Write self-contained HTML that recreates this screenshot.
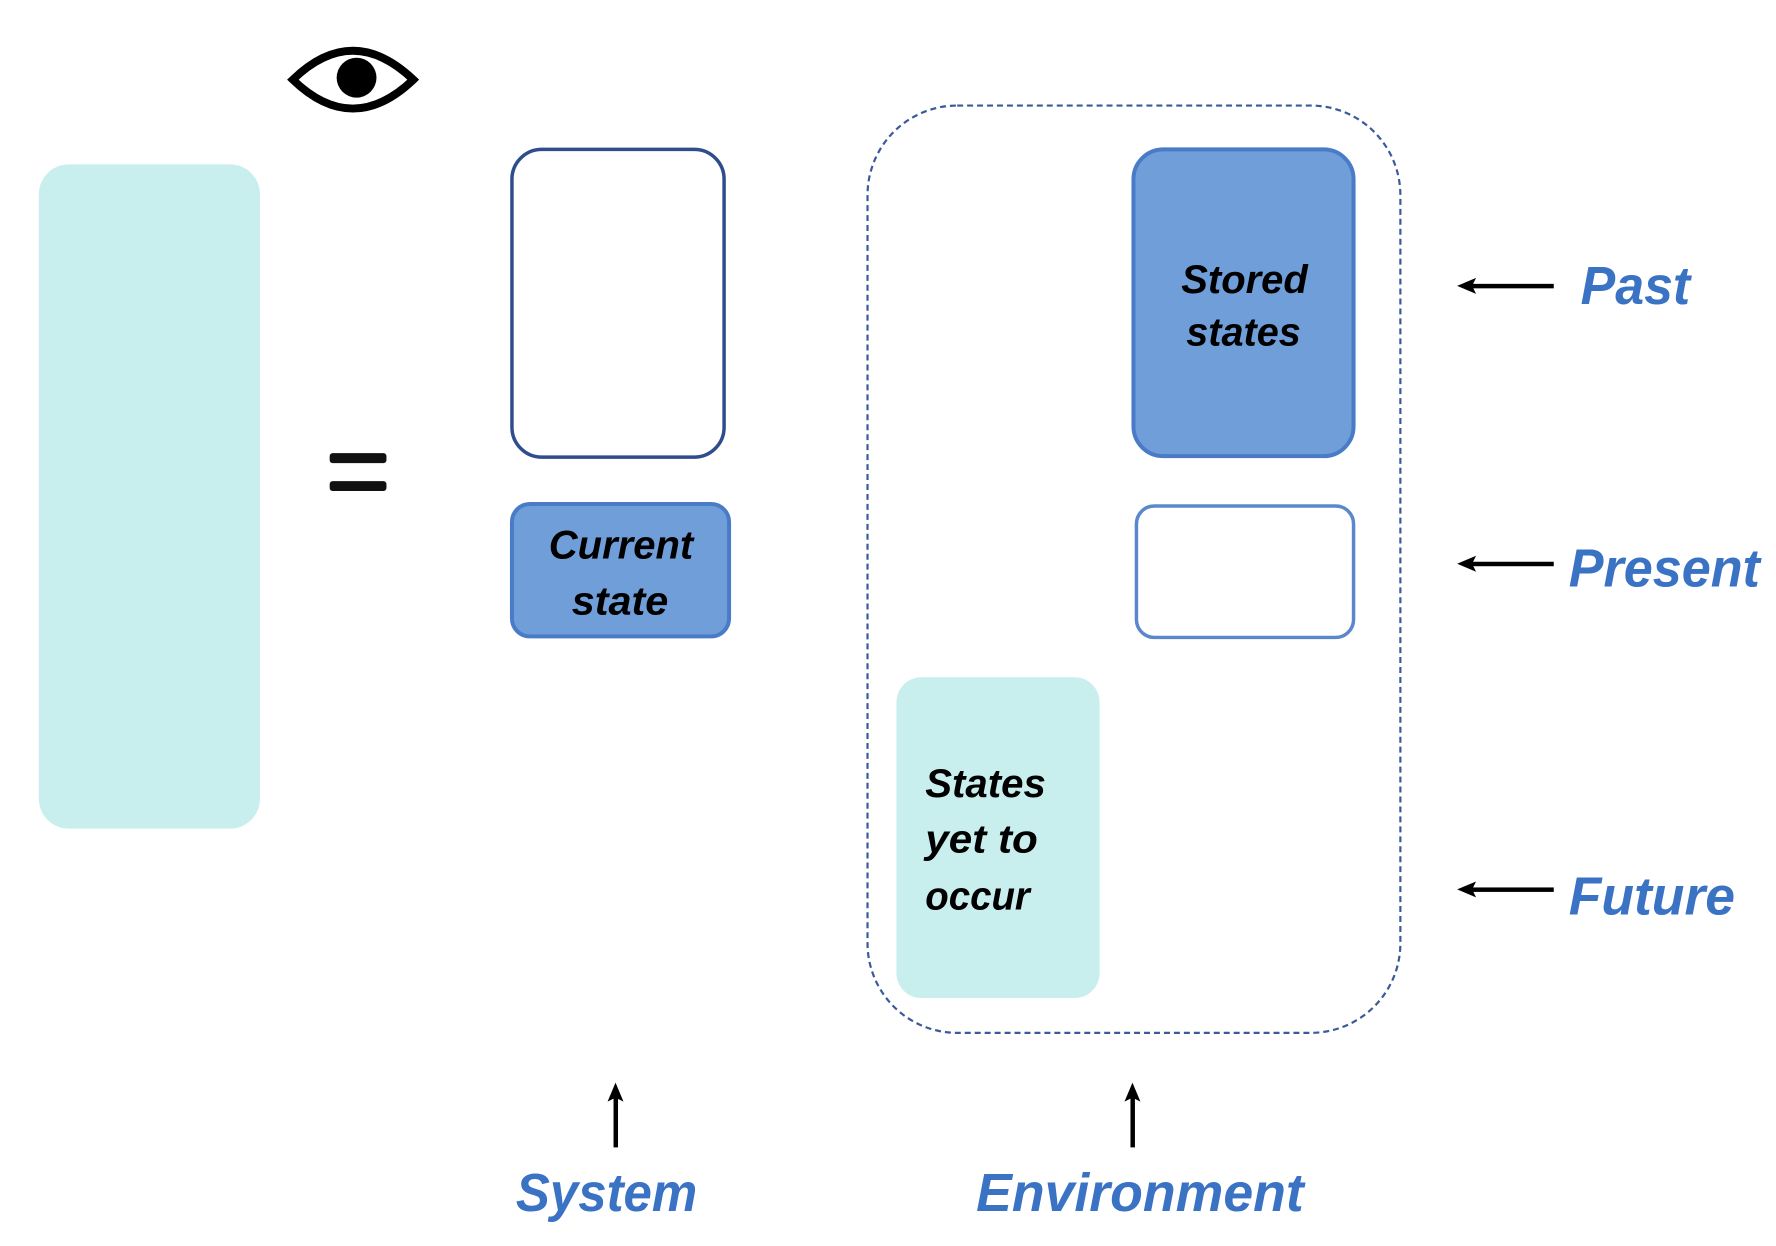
<!DOCTYPE html>
<html><head><meta charset="utf-8"><style>
html,body{margin:0;padding:0;background:#fff;}
svg{display:block;}
text{font-family:"Liberation Sans Narrow","Liberation Sans",sans-serif;font-weight:bold;font-style:italic;}
</style></head><body>
<svg width="1776" height="1246" viewBox="0 0 1776 1246" xmlns="http://www.w3.org/2000/svg">
<g transform="scale(0.996)">
<!-- eye -->
<path d="M294,80 Q354,22 415,80 Q354,138 294,80 Z" fill="none" stroke="#000" stroke-width="8"/>
<circle cx="358" cy="78" r="20" fill="#000"/>
<!-- left teal -->
<rect x="39" y="165" width="222" height="667" rx="30" fill="#c9eeee"/>
<!-- equals -->
<rect x="331" y="455" width="57" height="10" rx="3" fill="#111"/>
<rect x="331" y="483" width="57" height="10" rx="3" fill="#111"/>
<!-- system box -->
<rect x="514" y="150" width="213" height="309" rx="30" fill="#fff" stroke="#2f4d8c" stroke-width="3.5"/>
<rect x="514" y="506" width="218" height="133" rx="18" fill="#6f9ed8" stroke="#4a7bc6" stroke-width="4"/>
<text x="551" y="561" font-size="40" textLength="145" lengthAdjust="spacingAndGlyphs" fill="#000">Current</text>
<text x="574" y="617" font-size="40" textLength="97" lengthAdjust="spacingAndGlyphs" fill="#000">state</text>
<!-- dashed env -->
<rect x="871" y="106" width="535" height="931" rx="90" fill="none" stroke="#3a5a99" stroke-width="2.2" stroke-dasharray="6,4"/>
<rect x="1138" y="150" width="221" height="308" rx="30" fill="#6f9ed8" stroke="#4a7bc6" stroke-width="4"/>
<text x="1186" y="294" font-size="40" textLength="127" lengthAdjust="spacingAndGlyphs" fill="#000">Stored</text>
<text x="1191" y="347" font-size="40" textLength="115" lengthAdjust="spacingAndGlyphs" fill="#000">states</text>
<rect x="1141" y="508" width="218" height="132" rx="18" fill="#fff" stroke="#5b88cc" stroke-width="3.5"/>
<rect x="900" y="680" width="204" height="322" rx="25" fill="#c9eeee"/>
<text x="929" y="800" font-size="40" textLength="121" lengthAdjust="spacingAndGlyphs" fill="#000">States</text>
<text x="929" y="856" font-size="40" textLength="113" lengthAdjust="spacingAndGlyphs" fill="#000">yet to</text>
<text x="929" y="913" font-size="40" textLength="105" lengthAdjust="spacingAndGlyphs" fill="#000">occur</text>
<!-- side arrows -->
<g fill="#000">
<rect x="1474" y="285" width="86" height="4.5"/>
<polygon points="1463,287 1482,279 1478,287 1482,295"/>
<rect x="1474" y="564" width="86" height="4.5"/>
<polygon points="1463,566 1482,558 1478,566 1482,574"/>
<rect x="1474" y="891" width="86" height="4.5"/>
<polygon points="1463,893 1482,885 1478,893 1482,901"/>
<!-- up arrows -->
<rect x="616" y="1098" width="4.5" height="54"/>
<polygon points="618,1087 610,1106 618,1102 626,1106"/>
<rect x="1135" y="1098" width="4.5" height="54"/>
<polygon points="1137,1087 1129,1106 1137,1102 1145,1106"/>
</g>
<text x="1587" y="305" font-size="54" textLength="110" lengthAdjust="spacingAndGlyphs" fill="#3a72c4">Past</text>
<text x="1575" y="589" font-size="54" textLength="192" lengthAdjust="spacingAndGlyphs" fill="#3a72c4">Present</text>
<text x="1575" y="918" font-size="54" textLength="167" lengthAdjust="spacingAndGlyphs" fill="#3a72c4">Future</text>
<text x="518" y="1216" font-size="54" textLength="182" lengthAdjust="spacingAndGlyphs" fill="#3a72c4">System</text>
<text x="980" y="1216" font-size="54" textLength="329" lengthAdjust="spacingAndGlyphs" fill="#3a72c4">Environment</text>
</g>
</svg>
</body></html>
